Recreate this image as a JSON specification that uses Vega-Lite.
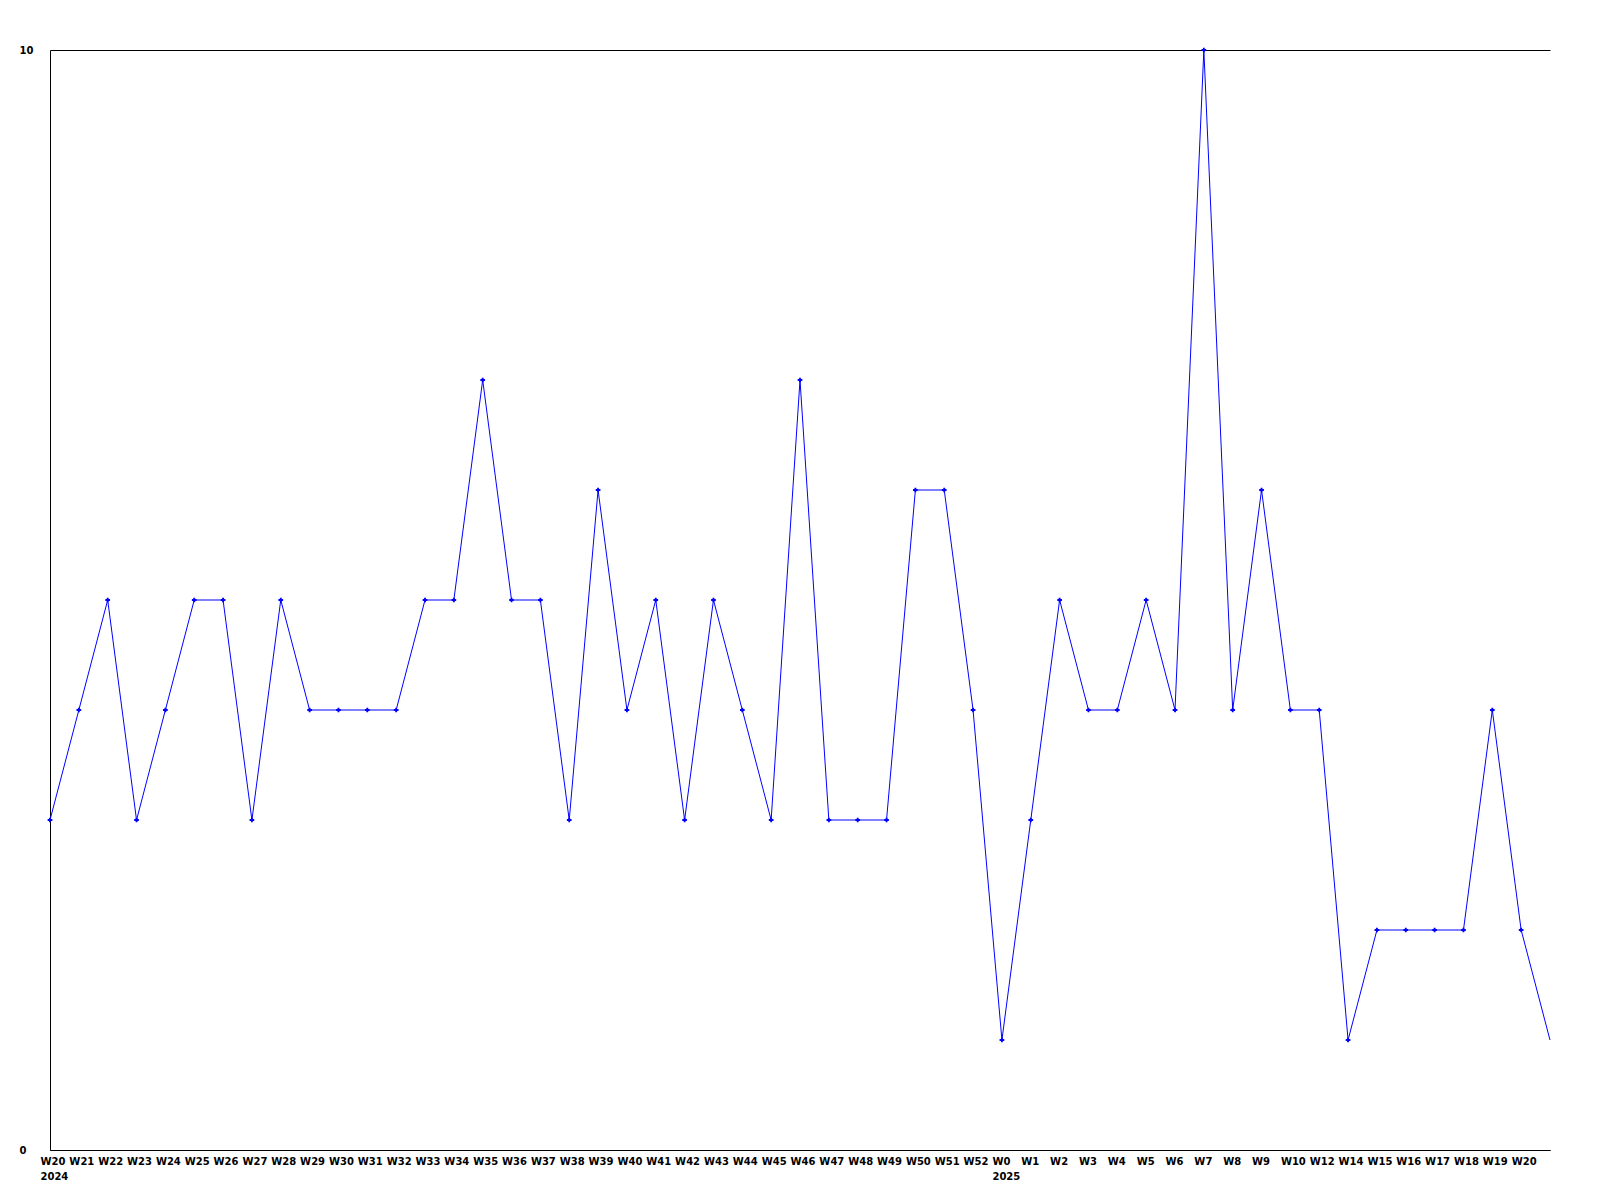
{
  "$schema": "https://vega.github.io/schema/vega-lite/v6.json",
  "width": 1500,
  "height": 1100,
  "autosize": {"type": "none"},
  "padding": {"left": 50, "top": 50, "right": 50, "bottom": 50},
  "background": "white",
  "config": {"view": {"stroke": null}},
  "data": {"values": [
    {"k": "W20|2024", "v": 3}, {"k": "W21|", "v": 4}, {"k": "W22|", "v": 5}, {"k": "W23|", "v": 3},
    {"k": "W24|", "v": 4}, {"k": "W25|", "v": 5}, {"k": "W26|", "v": 5}, {"k": "W27|", "v": 3},
    {"k": "W28|", "v": 5}, {"k": "W29|", "v": 4}, {"k": "W30|", "v": 4}, {"k": "W31|", "v": 4},
    {"k": "W32|", "v": 4}, {"k": "W33|", "v": 5}, {"k": "W34|", "v": 5}, {"k": "W35|", "v": 7},
    {"k": "W36|", "v": 5}, {"k": "W37|", "v": 5}, {"k": "W38|", "v": 3}, {"k": "W39|", "v": 6},
    {"k": "W40|", "v": 4}, {"k": "W41|", "v": 5}, {"k": "W42|", "v": 3}, {"k": "W43|", "v": 5},
    {"k": "W44|", "v": 4}, {"k": "W45|", "v": 3}, {"k": "W46|", "v": 7}, {"k": "W47|", "v": 3},
    {"k": "W48|", "v": 3}, {"k": "W49|", "v": 3}, {"k": "W50|", "v": 6}, {"k": "W51|", "v": 6},
    {"k": "W52|", "v": 4}, {"k": "W0|2025", "v": 1}, {"k": "W1|", "v": 3}, {"k": "W2|", "v": 5},
    {"k": "W3|", "v": 4}, {"k": "W4|", "v": 4}, {"k": "W5|", "v": 5}, {"k": "W6|", "v": 4},
    {"k": "W7|", "v": 10}, {"k": "W8|", "v": 4}, {"k": "W9|", "v": 6}, {"k": "W10|", "v": 4},
    {"k": "W12|", "v": 4}, {"k": "W14|", "v": 1}, {"k": "W15|", "v": 2}, {"k": "W16|", "v": 2},
    {"k": "W17|", "v": 2}, {"k": "W18|", "v": 2}, {"k": "W19|", "v": 4}, {"k": "W20|", "v": 2},
    {"k": "|", "v": 1}
  ]},
  "encoding": {
    "x": {
      "field": "k", "type": "ordinal", "sort": null,
      "scale": {"type": "point", "padding": 0},
      "axis": {
        "title": null, "labelAngle": 0, "labelAlign": "left", "labelOffset": -10,
        "labelBaseline": "top", "labelPadding": 6, "labelLineHeight": 15,
        "labelFont": "DejaVu Sans", "labelFontWeight": "bold", "labelFontSize": 10,
        "labelColor": "black", "labelOverlap": false, "labelFlush": false,
        "ticks": false, "domainColor": "black", "domainWidth": 1, "grid": false,
        "labelExpr": "split(datum.value, '|')"
      }
    },
    "y": {
      "field": "v", "type": "quantitative",
      "scale": {"domain": [0, 10], "nice": false, "zero": true},
      "axis": {
        "title": null, "values": [0, 10], "labelAlign": "left", "labelPadding": 31,
        "labelBaseline": "middle", "labelFont": "DejaVu Sans", "labelFontWeight": "bold",
        "labelFontSize": 10, "labelColor": "black", "labelFlush": false,
        "ticks": false, "domainColor": "black", "domainWidth": 1,
        "grid": true, "gridColor": "black", "gridOpacity": 1, "gridWidth": 1
      }
    }
  },
  "layer": [
    {"mark": {"type": "line", "color": "#0000ff", "strokeWidth": 1}},
    {
      "transform": [{"filter": "datum.k != '|'"}],
      "mark": {"type": "point", "shape": "cross", "filled": true, "color": "#0000ff", "size": 22, "opacity": 1}
    }
  ]
}
